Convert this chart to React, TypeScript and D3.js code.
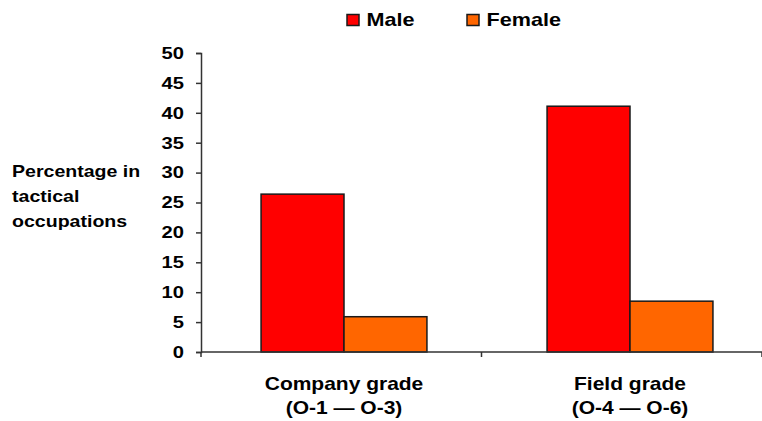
import React, { useEffect, useRef } from "react";
import * as d3 from "d3";

const categories = ["Company grade|(O-1 — O-3)", "Field grade|(O-4 — O-6)"];
const seriesNames = ["Male", "Female"];
const maleValues = [26.4, 41.1];
const femaleValues = [5.9, 8.5];
const yTicks = [0, 5, 10, 15, 20, 25, 30, 35, 40, 45, 50];
const yLabelLines = ["Percentage in", "tactical", "occupations"];
const colors = ["#ff0000", "#ff6600"];

// text in this chart is set in a horizontally widened bold sans
const STRETCH = 1.2;
const FONT = "Arial, 'Liberation Sans', sans-serif";

export default function App() {
  const ref = useRef<SVGSVGElement>(null);

  useEffect(() => {
    const svg = d3.select(ref.current);
    svg.selectAll("*").remove();
    const left = 201, right = 762, top = 53, bottom = 352;

    const addText = (
      x: number, y: number, s: string, size: number, anchor = "start"
    ) =>
      svg.append("g").attr("transform", `translate(${x},${y}) scale(${STRETCH},1)`)
        .append("text").attr("text-anchor", anchor).attr("font-family", FONT)
        .attr("font-weight", "bold").attr("font-size", size).attr("fill", "#000").text(s);

    // category scale for the clustered bars
    const x0 = d3.scaleBand().domain(categories).range([left, 773])
      .paddingInner(0.42).paddingOuter(0.21);
    const x1 = d3.scaleBand().domain(seriesNames).range([0, x0.bandwidth()]).padding(0);
    // category divisions along the x axis
    const xDiv = d3.scaleBand().domain(categories).range([left, right]);
    const y = d3.scaleLinear().domain([0, 50]).range([bottom, top]);

    const data = categories.map((c, i) => ({ c, vals: [maleValues[i], femaleValues[i]] }));

    const g = svg.append("g");
    data.forEach((d) => {
      d.vals.forEach((v, j) => {
        g.append("rect")
          .attr("x", x0(d.c)! + x1(seriesNames[j])!)
          .attr("y", y(v))
          .attr("width", x1.bandwidth())
          .attr("height", y(0) - y(v))
          .attr("fill", colors[j])
          .attr("stroke", "#1a1a1a")
          .attr("stroke-width", 1.5);
      });
    });

    // y axis
    const yAxis = svg.append("g").attr("transform", `translate(${left},0)`)
      .call(d3.axisLeft(y).tickValues(yTicks).tickSize(5).tickPadding(17));
    yAxis.select(".domain").attr("stroke", "#333").attr("stroke-width", 1.5);
    yAxis.selectAll(".tick line").attr("stroke", "#333").attr("stroke-width", 1.5);
    yAxis.selectAll<SVGTextElement, number>("text")
      .attr("x", 0)
      .attr("transform", `translate(-17,0) scale(${STRETCH},1)`)
      .attr("font-family", FONT).attr("font-weight", "bold").attr("font-size", 16.8).attr("fill", "#000");

    // x axis line with category separators
    const xg = svg.append("g");
    xg.append("line").attr("x1", left).attr("x2", right).attr("y1", bottom).attr("y2", bottom)
      .attr("stroke", "#333").attr("stroke-width", 1.5);
    [left, xDiv(categories[1])!, right].forEach((xx) => {
      xg.append("line").attr("x1", xx).attr("x2", xx).attr("y1", bottom).attr("y2", bottom + 5)
        .attr("stroke", "#333").attr("stroke-width", 1.5);
    });

    // category labels
    categories.forEach((c) => {
      const cx = x0(c)! + x0.bandwidth() / 2;
      c.split("|").forEach((ln, k) => addText(cx, 390 + k * 24, ln, 17.5, "middle"));
    });

    // y axis title
    yLabelLines.forEach((ln, k) => addText(12, 177 + k * 25, ln, 16.3));

    // legend
    const legendX = [347, 467];
    seriesNames.forEach((s, j) => {
      svg.append("rect").attr("x", legendX[j]).attr("y", 14.5).attr("width", 12).attr("height", 11)
        .attr("fill", colors[j]).attr("stroke", "#1a1a1a").attr("stroke-width", 1.5);
      addText(legendX[j] + 19.5, 26, s, 18);
    });
  }, []);

  return (
    <svg ref={ref} width={762} height={421}
      style={{ position: "absolute", left: 0, top: 0, background: "#fff" }} />
  );
}
